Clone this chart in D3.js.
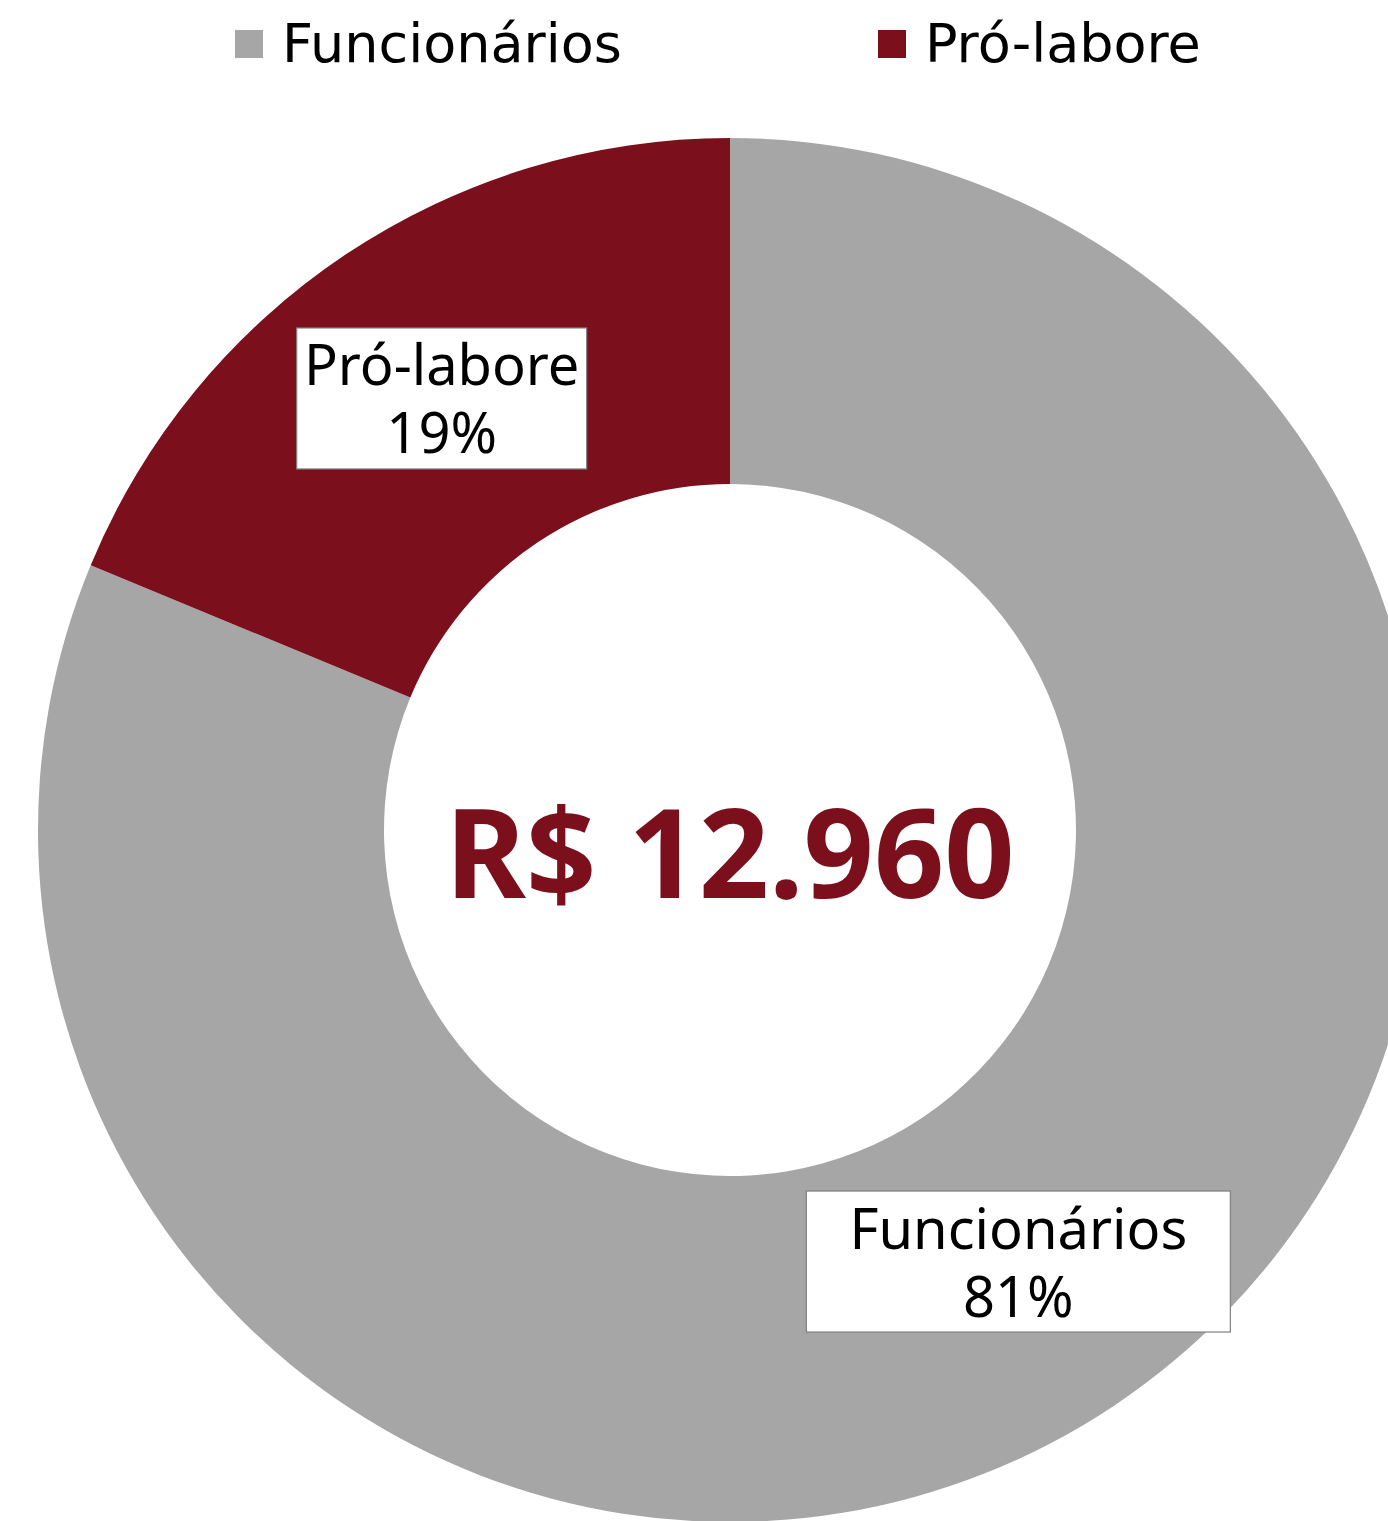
<!DOCTYPE html>
<html>
<head>
<meta charset="utf-8">
<style>
  html, body { margin: 0; padding: 0; background: #fff; }
  svg { display: block; }
</style>
</head>
<body>
<svg width="1388" height="1521"></svg>
<script src="https://cdnjs.cloudflare.com/ajax/libs/d3/7.8.5/d3.min.js"></script>
<script>
  // data (R$)
  const categories = ["Funcionários", "Pró-labore"];
  const amounts = [10530, 2430];
  const colors = ["#a6a6a6", "#7b0f1c"];
  const totalLabel = "R$ 12.960";

  const width = 1388, height = 1521;
  const cx = 730, cy = 830;
  const outerR = 692, innerR = 346;

  const svg = d3.select("svg");

  const color = d3.scaleOrdinal().domain(categories).range(colors);
  const total = d3.sum(amounts);

  const pie = d3.pie().sort(null).value(d => d.value);
  const arcs = pie(categories.map((c, i) => ({name: c, value: amounts[i]})));

  const arc = d3.arc().innerRadius(innerR).outerRadius(outerR);

  const g = svg.append("g").attr("transform", "translate(" + [cx, cy] + ")");

  g.selectAll("path.slice")
    .data(arcs)
    .enter().append("path")
    .attr("class", "slice")
    .attr("d", arc)
    .attr("fill", d => color(d.data.name));

  // center total
  g.append("text")
    .attr("x", 0)
    .attr("y", 68)
    .attr("text-anchor", "middle")
    .attr("font-family", "Noto Sans, sans-serif")
    .attr("font-weight", "bold")
    .attr("font-size", 123)
    .attr("fill", "#7b0f1c")
    .text(totalLabel);

  // data labels in boxes at slice centroids
  const boxW = {"Funcionários": 424, "Pró-labore": 290};
  const boxH = 141;

  const lab = g.selectAll("g.label")
    .data(arcs)
    .enter().append("g")
    .attr("class", "label")
    .attr("transform", d => "translate(" + arc.centroid(d) + ")");

  lab.append("rect")
    .attr("x", d => -boxW[d.data.name] / 2)
    .attr("y", -boxH / 2)
    .attr("width", d => boxW[d.data.name])
    .attr("height", boxH)
    .attr("fill", "#fff")
    .attr("stroke", "#7f7f7f")
    .attr("stroke-width", 1.2);

  const lt = lab.append("text")
    .attr("text-anchor", "middle")
    .attr("font-family", "Noto Sans, sans-serif")
    .attr("font-size", 56)
    .attr("fill", "#000");
  lt.append("tspan").attr("x", 0).attr("y", -13).text(d => d.data.name);
  lt.append("tspan").attr("x", 0).attr("y", 55)
    .text(d => Math.round(d.data.value / total * 100) + "%");

  // legend
  const legendX = [235, 878];
  const legend = svg.selectAll("g.legend")
    .data(categories)
    .enter().append("g")
    .attr("class", "legend")
    .attr("transform", (d, i) => "translate(" + [legendX[i], 30] + ")");

  legend.append("rect")
    .attr("width", 28)
    .attr("height", 28)
    .attr("fill", d => color(d));

  legend.append("text")
    .attr("x", 47)
    .attr("y", 32)
    .attr("font-family", "DejaVu Sans, sans-serif")
    .attr("font-size", 54)
    .attr("fill", "#000")
    .text(d => d);
</script>
</body>
</html>
